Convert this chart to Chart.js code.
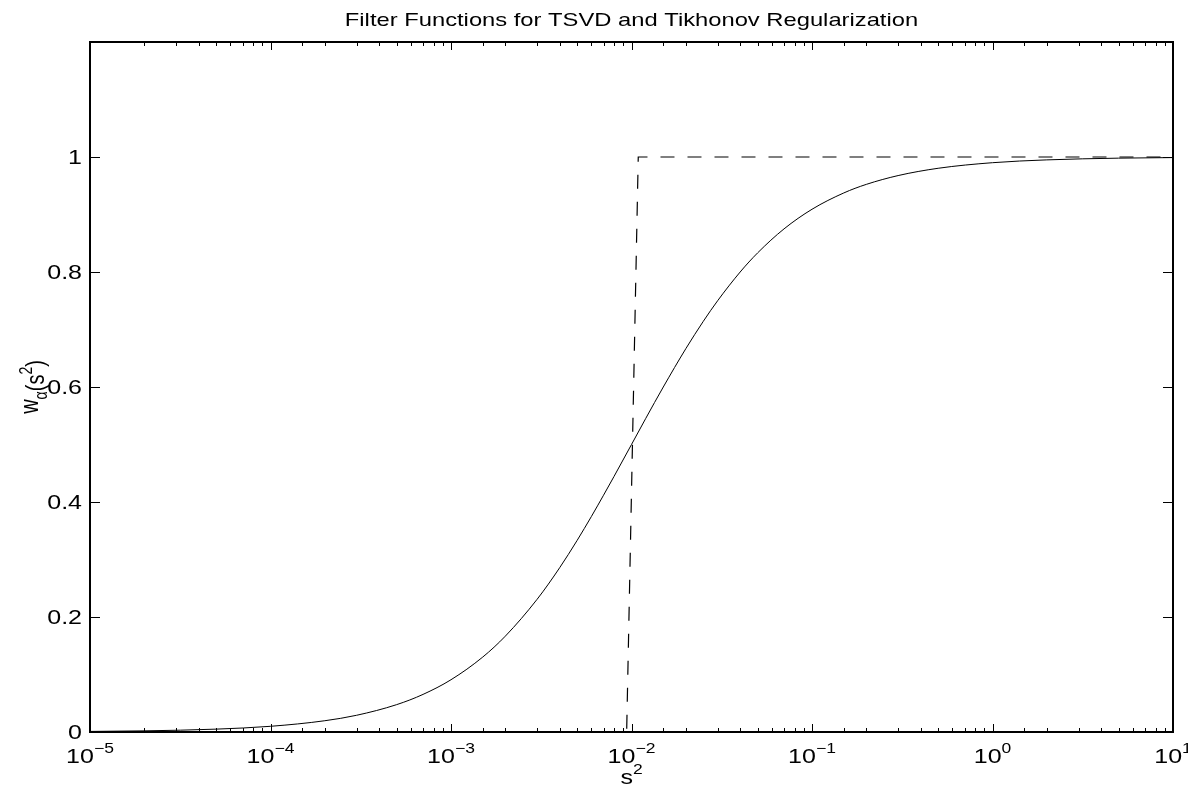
<!DOCTYPE html>
<html>
<head>
<meta charset="utf-8">
<script src="https://cdn.jsdelivr.net/npm/chart.js@4.4.1/dist/chart.umd.min.js"></script>
<style>
  html, body { margin: 0; padding: 0; background: #fff; }
  #wrap { width: 1188px; height: 793px; }
</style>
</head>
<body>
<div id="wrap"><canvas id="filterChart" width="1188" height="793"></canvas></div>
<script>
const sSquared = [1e-5, 2e-5, 5e-5, 1e-4, 2e-4, 3e-4, 5e-4, 7e-4, 1e-3, 1.5e-3, 2e-3, 3e-3,
  4e-3, 5e-3, 6e-3, 7e-3, 8e-3, 1e-2, 1.2e-2, 1.5e-2, 2e-2, 2.5e-2, 3e-2, 4e-2, 5e-2, 7e-2,
  0.1, 0.15, 0.2, 0.3, 0.5, 1, 2, 5, 10];
const tikhonov = [0.001, 0.002, 0.005, 0.0099, 0.0196, 0.0291, 0.0476, 0.0654, 0.0909, 0.1304,
  0.1667, 0.2308, 0.2857, 0.3333, 0.375, 0.4118, 0.4444, 0.5, 0.5455, 0.6, 0.6667, 0.7143,
  0.75, 0.8, 0.8333, 0.875, 0.9091, 0.9375, 0.9524, 0.9677, 0.9804, 0.9901, 0.995, 0.998, 0.999];

// TSVD step filter (dashed)
const tsvdX = [1e-5, 0.0094, 0.0109, 10];
const tsvdY = [0, 0, 1, 1];

// tick labels
const xTickExps = [-5, -4, -3, -2, -1, 0, 1];
const yTickValues = [0, 0.2, 0.4, 0.6, 0.8, 1];

const titleText = 'Filter Functions for TSVD and Tikhonov Regularization';

const FONT = "'Liberation Sans', Arial, Helvetica, sans-serif";
const SX = 1.25; // text in the picture is stretched horizontally

function toPoints(xs, ys) {
  return xs.map((x, i) => ({ x: x, y: ys[i] }));
}

// draw text with horizontal stretch, returns drawn width
function stretchText(ctx, text, x, y, size, align) {
  ctx.save();
  ctx.font = size + 'px ' + FONT;
  const w = ctx.measureText(text).width * SX;
  let left = x;
  if (align === 'center') left = x - w / 2;
  if (align === 'right') left = x - w;
  ctx.translate(left, y);
  ctx.scale(SX, 1);
  ctx.textAlign = 'left';
  ctx.textBaseline = 'alphabetic';
  ctx.fillText(text, 0, 0);
  ctx.restore();
  return w;
}

function textWidth(ctx, text, size) {
  ctx.save();
  ctx.font = size + 'px ' + FONT;
  const w = ctx.measureText(text).width * SX;
  ctx.restore();
  return w;
}

const matlabAxes = {
  id: 'matlabAxes',
  afterDraw(chart) {
    const ctx = chart.ctx;
    const area = chart.chartArea;
    const xs = chart.scales.x;
    const ys = chart.scales.y;
    ctx.save();
    ctx.fillStyle = '#000';
    ctx.strokeStyle = '#000';

    // inward ticks on x (top and bottom)
    ctx.lineWidth = 1;
    xs.ticks.forEach(t => {
      const px = Math.round(xs.getPixelForValue(t.value)) + 0.5;
      const l = Math.log10(t.value);
      const major = Math.abs(l - Math.round(l)) < 1e-9;
      const len = major ? 8 : 4;
      ctx.beginPath();
      ctx.moveTo(px, area.bottom);
      ctx.lineTo(px, area.bottom - len);
      ctx.moveTo(px, area.top);
      ctx.lineTo(px, area.top + len);
      ctx.stroke();
    });

    // inward ticks on y (left and right)
    yTickValues.forEach(v => {
      const py = Math.round(ys.getPixelForValue(v)) + 0.5;
      ctx.beginPath();
      ctx.moveTo(area.left, py);
      ctx.lineTo(area.left + 10, py);
      ctx.moveTo(area.right, py);
      ctx.lineTo(area.right - 10, py);
      ctx.stroke();
    });

    // axes box
    ctx.lineWidth = 2;
    ctx.strokeRect(area.left, area.top, area.right - area.left, area.bottom - area.top);

    // y tick labels
    yTickValues.forEach(v => {
      const py = ys.getPixelForValue(v);
      stretchText(ctx, String(v), area.left - 8, py + 7, 20, 'right');
    });

    // x tick labels: 10 with superscript exponent
    xTickExps.forEach(e => {
      const px = xs.getPixelForValue(Math.pow(10, e));
      const base = '10';
      const exp = String(e).replace('-', '\u2212');
      const w1 = textWidth(ctx, base, 20);
      const w2 = textWidth(ctx, exp, 14);
      const start = px - (w1 + w2) / 2;
      stretchText(ctx, base, start, area.bottom + 31, 20, 'left');
      stretchText(ctx, exp, start + w1, area.bottom + 21, 14, 'left');
    });

    // title
    const cx = (area.left + area.right) / 2;
    stretchText(ctx, titleText, cx, 26, 19, 'center');

    // x label s^2
    const ws = textWidth(ctx, 's', 20);
    const w2x = textWidth(ctx, '2', 14);
    const sx0 = cx - (ws + w2x) / 2;
    stretchText(ctx, 's', sx0, 784, 20, 'left');
    stretchText(ctx, '2', sx0 + ws, 774, 14, 'left');

    // y label w_alpha(s^2), rotated
    const cy = (area.top + area.bottom) / 2;
    ctx.save();
    ctx.translate(38, cy);
    ctx.scale(SX, 1);
    ctx.rotate(-Math.PI / 2);
    ctx.textBaseline = 'alphabetic';
    ctx.textAlign = 'left';
    const parts = [
      { t: 'w', size: 20, dy: 0 },
      { t: '\u03b1', size: 14, dy: 7 },
      { t: '(s', size: 20, dy: 5 },
      { t: '2', size: 14, dy: -5 },
      { t: ')', size: 20, dy: 5 }
    ];
    let total = 0;
    parts.forEach(p => {
      ctx.font = p.size + 'px ' + FONT;
      p.w = ctx.measureText(p.t).width;
      total += p.w;
    });
    let x0 = -total / 2;
    parts.forEach(p => {
      ctx.font = p.size + 'px ' + FONT;
      ctx.fillText(p.t, x0, p.dy);
      x0 += p.w;
    });
    ctx.restore();

    ctx.restore();
  }
};

const ctx = document.getElementById('filterChart').getContext('2d');

const myChart = new Chart(ctx, {
  type: 'line',
  data: {
    datasets: [
      {
        label: 'Tikhonov',
        data: toPoints(sSquared, tikhonov),
        borderColor: '#000',
        borderWidth: 1,
        pointRadius: 0,
        fill: false,
        cubicInterpolationMode: 'monotone'
      },
      {
        label: 'TSVD',
        data: toPoints(tsvdX, tsvdY),
        borderColor: '#000',
        borderWidth: 1.2,
        borderDash: [14, 13],
        pointRadius: 0,
        fill: false,
        tension: 0
      }
    ]
  },
  options: {
    responsive: false,
    animation: false,
    layout: { padding: { left: 90, top: 42, right: 15, bottom: 61 } },
    plugins: {
      legend: { display: false },
      tooltip: { enabled: false }
    },
    scales: {
      x: {
        type: 'logarithmic',
        min: 1e-5,
        max: 10,
        grid: { display: false },
        border: { display: false },
        ticks: { display: false },
        afterFit: s => { s.height = 0; }
      },
      y: {
        type: 'linear',
        min: 0,
        max: 1.2,
        grid: { display: false },
        border: { display: false },
        ticks: { display: false, stepSize: 0.2 },
        afterFit: s => { s.width = 0; }
      }
    }
  },
  plugins: [matlabAxes]
});
</script>
</body>
</html>
